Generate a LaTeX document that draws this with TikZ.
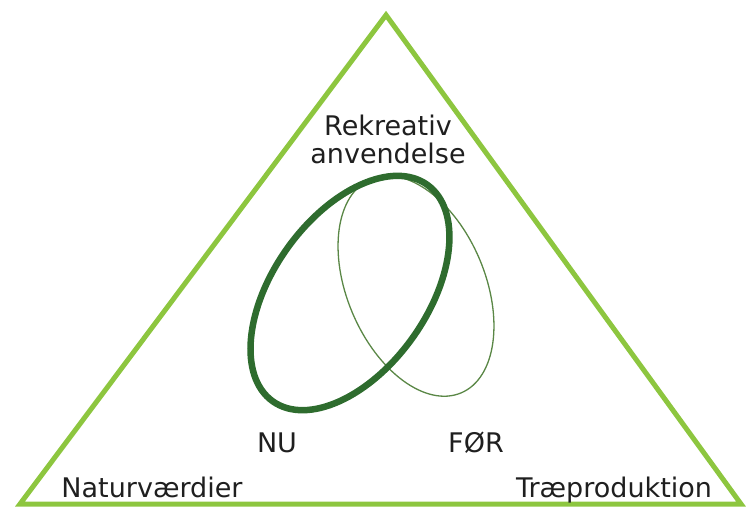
\documentclass[tikz,border=0pt]{standalone}
\usepackage{fontspec}
\setmainfont{DejaVu Sans}
\definecolor{lightgreen}{RGB}{141,198,63}
\definecolor{darkgreen}{RGB}{46,108,46}
\definecolor{olivegreen}{RGB}{90,135,70}
\begin{document}
\begin{tikzpicture}[x=1pt,y=-1pt,
  lbl/.style={inner sep=0pt, anchor=base, font=\fontsize{27}{28}\selectfont, text=black!88}]
\useasboundingbox (0,0) rectangle (747,508);
% triangle
\coordinate (top) at (386,15);
\coordinate (left) at (20,504);
\coordinate (right) at (741,504);
\draw[lightgreen, line width=5pt, line join=miter] (top) -- (left) -- (right) -- cycle;
% ellipses
\coordinate (nu) at (350,293);
\coordinate (foer) at (416,286);
\draw[olivegreen, line width=1.3pt, rotate around={112.9:(foer)}] (foer) ellipse [x radius=116pt, y radius=69pt];
\draw[darkgreen, line width=6.5pt, rotate around={54.5:(nu)}] (nu) ellipse [x radius=133pt, y radius=77pt];
% labels
\node[lbl, anchor=center, align=center] (rek) at (388,139) {Rekreativ\\anvendelse};
\node[lbl] (nulbl) at (277,452) {NU};
\node[lbl] (foerlbl) at (476,452) {FØR};
\node[lbl] (natur) at (152,497) {Naturværdier};
\node[lbl] (trae) at (614,497) {Træproduktion};
\end{tikzpicture}
\end{document}
